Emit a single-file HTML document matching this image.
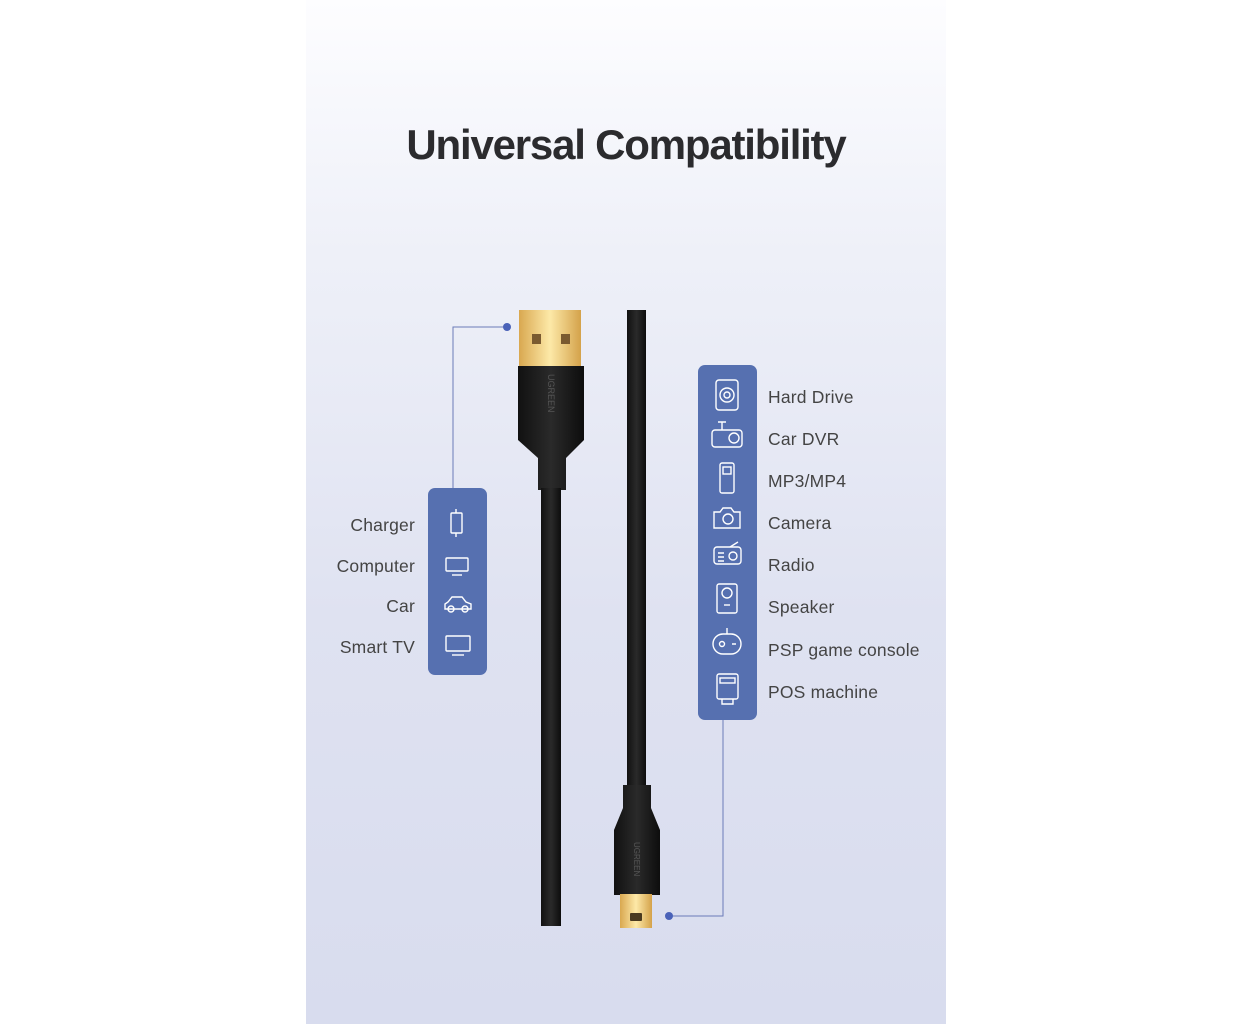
<!DOCTYPE html>
<html><head><style>
body{margin:0;width:1252px;height:1024px;background:#fff;position:relative;overflow:hidden;font-family:"Liberation Sans",sans-serif}
.panel{position:absolute;left:306px;top:0;width:640px;height:1024px;background:linear-gradient(180deg,#fdfdff 0%,#eef0f8 25%,#dfe2f1 60%,#d8dcee 100%)}
.title{position:absolute;left:306px;width:640px;top:121px;text-align:center;font-size:42px;font-weight:bold;color:#2b2b2e;letter-spacing:-1.2px}
.box{position:absolute;background:#5670b0;border-radius:7px}
.l{position:absolute;font-size:17.5px;color:#444;line-height:20px;letter-spacing:0.2px}
.ll{right:837px;text-align:right}
</style></head><body>
<div class="panel"></div>
<div class="title">Universal Compatibility</div>
<svg width="1252" height="1024" style="position:absolute;left:0;top:0">
<defs><linearGradient id="g" x1="0" y1="0" x2="1" y2="0"><stop offset="0" stop-color="#d9a850"/><stop offset=".5" stop-color="#fde9a8"/><stop offset="1" stop-color="#d4a24a"/></linearGradient>
<linearGradient id="b" x1="0" y1="0" x2="1" y2="0"><stop offset="0" stop-color="#111"/><stop offset=".5" stop-color="#2a2a2a"/><stop offset="1" stop-color="#0d0d0d"/></linearGradient></defs>
<g stroke="#6b7bb8" stroke-width="1" fill="none"><path d="M453 488V327H507"/><path d="M723 720V916H669"/></g>
<circle cx="507" cy="327" r="4" fill="#4a62b8"/><circle cx="669" cy="916" r="4" fill="#4a62b8"/>
<rect x="519" y="310" width="62" height="58" fill="url(#g)"/>
<rect x="532" y="334" width="9" height="10" fill="#7a5a30"/><rect x="561" y="334" width="9" height="10" fill="#7a5a30"/>
<path d="M518 366H584V440L566 458V490H538V458L518 440Z" fill="url(#b)"/>
<rect x="541" y="488" width="20" height="438" fill="url(#b)"/>
<rect x="627" y="310" width="19" height="480" fill="url(#b)"/>
<path d="M623 785H651V808L660 830V895H614V830L623 808Z" fill="url(#b)"/>
<rect x="620" y="894" width="32" height="34" fill="url(#g)"/>
<rect x="630" y="913" width="12" height="8" rx="1" fill="#4a3a20"/>
<text x="0" y="0" transform="translate(548,374) rotate(90)" font-size="9" fill="#555" font-family="Liberation Sans">UGREEN</text>
<text x="0" y="0" transform="translate(634,842) rotate(90)" font-size="8" fill="#555" font-family="Liberation Sans">UGREEN</text>
</svg>
<div class="box" style="left:428px;top:488px;width:59px;height:187px"></div>
<div class="box" style="left:698px;top:365px;width:59px;height:355px"></div>
<svg width="1252" height="1024" style="position:absolute;left:0;top:0" fill="none" stroke="#fff" stroke-width="1.4">
<rect x="451" y="513" width="11" height="20" rx="1"/><path d="M456 509v4M456 533v4"/>
<rect x="446" y="558" width="22" height="13" rx="1"/><path d="M452 575h10"/>
<path d="M445 609h26v-5l-5-2-4-5h-10l-4 5-3 2z"/><circle cx="451" cy="609" r="3"/><circle cx="465" cy="609" r="3"/>
<rect x="446" y="636" width="24" height="15" rx="1"/><path d="M452 655h12"/>
<rect x="716" y="380" width="22" height="30" rx="3"/><circle cx="727" cy="395" r="7"/><circle cx="727" cy="395" r="3"/>
<rect x="712" y="430" width="30" height="17" rx="3"/><circle cx="734" cy="438" r="5"/><path d="M722 422v8M718 422h8"/>
<rect x="720" y="463" width="14" height="30" rx="2"/><rect x="723" y="467" width="8" height="7"/>
<path d="M714 512h6l3-4h8l3 4h6v16h-26z"/><circle cx="728" cy="519" r="5"/>
<rect x="714" y="547" width="27" height="17" rx="3"/><circle cx="733" cy="556" r="4"/><path d="M718 553h6M718 557h6M718 561h6M730 547l8-5"/>
<rect x="717" y="584" width="20" height="29" rx="2"/><circle cx="727" cy="593" r="5"/><path d="M724 605h6"/>
<rect x="713" y="634" width="28" height="20" rx="10"/><circle cx="722" cy="644" r="2.5"/><path d="M732 644h4M727 634v-6"/>
<rect x="717" y="674" width="21" height="25" rx="2"/><rect x="720" y="678" width="15" height="5"/><path d="M722 699v5h11v-5"/>
</svg>
<div class="l ll" style="top:515px">Charger</div>
<div class="l ll" style="top:556px">Computer</div>
<div class="l ll" style="top:596px">Car</div>
<div class="l ll" style="top:637px">Smart TV</div>
<div class="l" style="left:768px;top:387px">Hard Drive</div>
<div class="l" style="left:768px;top:429px">Car DVR</div>
<div class="l" style="left:768px;top:471px">MP3/MP4</div>
<div class="l" style="left:768px;top:513px">Camera</div>
<div class="l" style="left:768px;top:555px">Radio</div>
<div class="l" style="left:768px;top:597px">Speaker</div>
<div class="l" style="left:768px;top:640px">PSP game console</div>
<div class="l" style="left:768px;top:682px">POS machine</div>
</body></html>
